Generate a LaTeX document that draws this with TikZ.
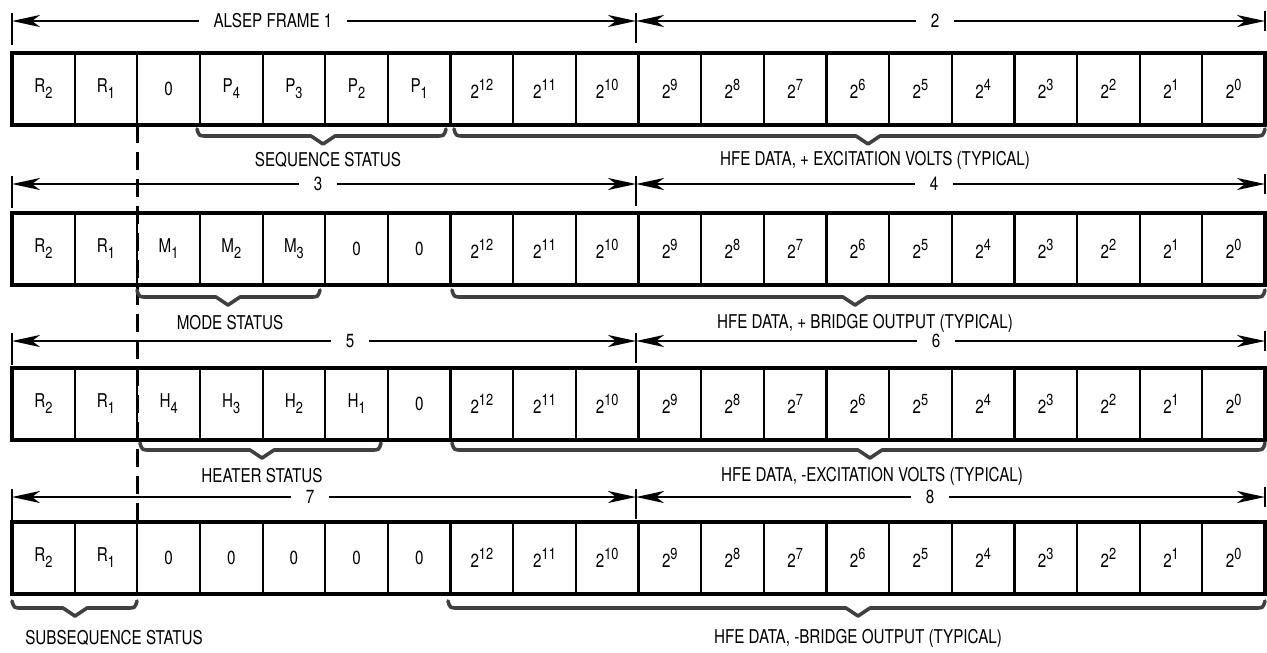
\documentclass[tikz,border=0pt]{standalone}
\usepackage{fontspec}
\setmainfont[FakeStretch=0.8]{TeX Gyre Heros}
\usetikzlibrary{arrows.meta,calc}
\newcommand\sbx[1]{\raisebox{-0.32em}{\fontsize{16}{16}\selectfont #1}}
\newcommand\spx[1]{\raisebox{0.42em}{\fontsize{16}{16}\selectfont #1}}
\begin{document}
\begin{tikzpicture}[x=1pt,y=-1pt,
 every node/.style={font=\fontsize{19}{19}\selectfont, inner sep=0pt, outer sep=0pt},
 cell/.style={draw, line width=2.2pt, minimum width=62.65pt, minimum height=72pt, anchor=north west},
 frame/.style={line width=3.6pt},
 arr/.style={line width=2.4pt, -{Stealth[length=28pt,width=12pt,inset=8pt]}},
 tick/.style={line width=2.8pt},
 brc/.style={line width=3.6pt, black!75, line join=round, line cap=round},
 lbl/.style={inner xsep=15pt},
 note/.style={}]
\useasboundingbox (0,0) rectangle (1267,653);

\newcommand\mkrow[3]{%
  \foreach \lab [count=\i] in {#3}
    \node[cell] (c#1-\i) at ({12+(\i-1)*62.65},#2) {\lab};
  \foreach \e [count=\j from 8] in {12,11,...,0}
    \node[cell] (c#1-\j) at ({12+(\j-1)*62.65},#2) {2\spx{\e}};
  \draw[frame] (c#1-1.north west) rectangle (c#1-20.south east);
}
\newcommand\hbrace[4]{%
  \draw[brc] (#1,#4) .. controls (#1+2,#4+7) .. (#1+10,#4+7) -- (#3-12,#4+7) -- (#3,#4+15)
     -- (#3+12,#4+7) -- (#2-10,#4+7) .. controls (#2-2,#4+7) .. (#2,#4);
}
\newcommand\mkarrows[6]{% row, y, label1, x1, label2, x2
  \coordinate (L#1) at (12,#2);
  \coordinate (M#1) at (636,#2);
  \coordinate (E#1) at (1265,#2);
  \node[lbl] (ta#1) at (#4,#2) {#3};
  \node[lbl] (tb#1) at (#6,#2) {#5};
  \draw[arr] (ta#1.west) -- (L#1);
  \draw[arr] (ta#1.east) -- (M#1);
  \draw[arr] (tb#1.west) -- (M#1);
  \draw[arr] (tb#1.east) -- (E#1);
  \draw[tick] ($(L#1)+(0,-8)$) -- ($(L#1)+(0,24)$);
  \draw[tick] ($(M#1)+(0,-8)$) -- ($(M#1)+(0,22)$);
  \draw[tick] ($(E#1)+(0,-10)$) -- ($(E#1)+(0,10)$);
}

\mkrow{1}{53}{R\sbx{2},R\sbx{1},0,P\sbx{4},P\sbx{3},P\sbx{2},P\sbx{1}}
\mkrow{2}{213}{R\sbx{2},R\sbx{1},M\sbx{1},M\sbx{2},M\sbx{3},0,0}
\mkrow{3}{368}{R\sbx{2},R\sbx{1},H\sbx{4},H\sbx{3},H\sbx{2},H\sbx{1},0}
\mkrow{4}{522}{R\sbx{2},R\sbx{1},0,0,0,0,0}

\mkarrows{1}{21}{ALSEP FRAME 1}{273}{2}{935}
\mkarrows{2}{184}{3}{318}{4}{934}
\mkarrows{3}{341}{5}{350}{6}{936}
\mkarrows{4}{497}{7}{310}{8}{930}

\draw[line width=3pt, dash pattern=on 18pt off 9pt] (c1-2.south east) -- (c4-2.north east);

\hbrace{197}{446}{323}{129}
\hbrace{454}{1265}{868}{129}
\hbrace{137}{320}{228}{290}
\hbrace{452}{1265}{855}{290}
\hbrace{140}{381}{262}{443}
\hbrace{452}{1265}{870}{443}
\hbrace{12}{137}{75}{601}
\hbrace{448}{1265}{858}{601}

\node[note] (s1) at (328,160) {SEQUENCE STATUS};
\node[note] (h1) at (875,160) {HFE DATA, + EXCITATION VOLTS (TYPICAL)};
\node[note] (s2) at (230,323) {MODE STATUS};
\node[note] (h2) at (865,323) {HFE DATA, + BRIDGE OUTPUT (TYPICAL)};
\node[note] (s3) at (262,476) {HEATER STATUS};
\node[note] (h3) at (872,476) {HFE DATA, -EXCITATION VOLTS (TYPICAL)};
\node[note] (s4) at (114,638) {SUBSEQUENCE STATUS};
\node[note] (h4) at (858,638) {HFE DATA, -BRIDGE OUTPUT (TYPICAL)};
\end{tikzpicture}
\end{document}
